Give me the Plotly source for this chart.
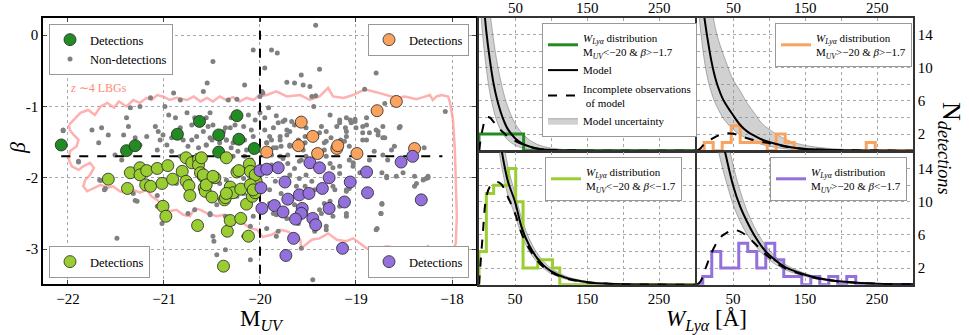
import plotly.graph_objects as go

FONT = "Liberation Serif"

# ---------------- scatter data (M_UV, beta) ----------------
dg_muv = [-22.07, -21.39, -21.30, -20.86, -20.63, -20.43, -20.43, -20.24, -20.22, -20.06]
dg_beta = [-1.54, -1.62, -1.55, -1.39, -1.21, -1.40, -1.64, -1.13, -1.46, -1.59]

or_muv = [-19.93, -19.57, -19.60, -19.45, -19.40, -19.20, -19.19, -18.99, -18.78, -18.58, -18.39]
or_beta = [-1.64, -1.22, -1.55, -1.42, -1.66, -1.59, -1.55, -1.66, -1.06, -0.93, -1.59]

pu_muv = [-20.00, -19.93, -19.81, -19.48, -19.38, -18.53, -18.41, -18.89, -19.28, -19.06, -19.74,
          -19.35, -19.99, -19.59, -19.49, -18.88, -19.71, -18.32, -19.12, -19.85, -19.98, -19.76,
          -19.56, -19.57, -19.63, -19.28, -19.45, -19.42, -19.65, -19.73, -19.14]
pu_beta = [-1.90, -1.88, -1.86, -1.79, -1.86, -1.78, -1.70, -1.92, -2.00, -2.06, -2.06,
           -2.15, -2.14, -2.24, -2.22, -2.21, -2.30, -2.31, -2.34, -2.39, -2.43, -2.48,
           -2.43, -2.50, -2.58, -2.43, -2.57, -2.66, -2.85, -3.09, -2.99]

lg_muv = [-21.58, -21.38, -21.35, -21.25, -21.25, -21.18, -21.19, -21.14, -21.07, -21.02, -21.01,
          -20.98, -20.96, -20.91, -20.81, -20.77, -20.77, -20.74, -20.73, -20.71, -20.65, -20.64,
          -20.64, -20.62, -20.61, -20.59, -20.58, -20.57, -20.50, -20.47, -20.38, -20.37, -20.36,
          -20.35, -20.34, -20.31, -20.31, -20.28, -20.24, -20.22, -20.20, -20.20, -20.14, -20.12,
          -20.11, -20.10, -20.07, -20.08, -20.05, -20.04, -20.05, -20.10, -20.07, -20.59, -20.56,
          -20.49, -20.35]
lg_beta = [-2.02, -2.15, -1.93, -1.86, -1.96, -1.90, -2.10, -2.12, -1.87, -2.08, -2.40,
           -2.54, -1.83, -2.02, -1.91, -2.05, -1.72, -2.11, -2.25, -1.79, -2.67, -1.74,
           -1.82, -1.93, -1.72, -1.98, -2.14, -2.19, -2.27, -2.00, -3.24, -2.31, -2.28,
           -1.72, -2.75, -2.60, -2.13, -2.21, -1.92, -1.90, -2.16, -2.57, -2.37, -2.82,
           -1.81, -1.91, -2.07, -2.26, -2.21, -2.05, -1.96, -2.10, -2.17, -1.96, -2.10,
           -1.98, -2.22]

nd_pts = [
    (-19.42, 0.14), (-20.07, -0.21), (-19.88, -0.21), (-19.82, -0.25), (-18.67, -0.25),
    (-20.49, -0.37), (-20.59, -0.79), (-20.90, -0.81), (-20.83, -0.91), (-21.14, -0.88),
    (-21.25, -1.00), (-21.35, -1.02), (-20.99, -1.00), (-20.95, -1.12), (-20.88, -1.16),
    (-20.76, -1.09), (-20.71, -1.26), (-20.68, -1.16), (-20.56, -1.16), (-20.49, -1.26),
    (-20.59, -1.35), (-20.66, -1.42), (-20.36, -1.30), (-20.30, -1.16), (-20.26, -1.26),
    (-21.39, -1.16), (-21.37, -1.28), (-21.75, -1.33), (-21.68, -1.51), (-21.58, -1.40),
    (-21.65, -1.30), (-22.05, -1.34), (-21.89, -1.77), (-21.18, -1.42), (-21.09, -1.28),
    (-21.06, -1.35), (-21.04, -1.47), (-21.01, -1.40), (-20.97, -1.54), (-20.92, -1.44),
    (-20.83, -1.30), (-20.80, -1.47), (-20.75, -1.56), (-20.71, -1.47), (-20.64, -1.58),
    (-20.56, -1.54), (-20.52, -1.44), (-20.42, -1.51), (-20.35, -1.47), (-20.30, -1.58),
    (-21.25, -1.54), (-21.30, -1.44), (-21.42, -1.40), (-21.51, -1.68), (-21.44, -1.75),
    (-21.07, -1.61), (-20.92, -1.63), (-20.83, -1.70), (-20.55, -0.67), (-20.24, -0.90),
    (-20.16, -0.70), (-19.95, -0.46), (-19.72, -0.66), (-19.64, -0.67), (-19.57, -0.56),
    (-19.55, -0.70), (-19.48, -0.72), (-19.38, -0.48), (-19.98, -0.79), (-20.00, -0.86),
    (-19.46, -0.86), (-19.42, -0.85), (-19.44, -1.00), (-19.91, -1.02), (-20.00, -1.09),
    (-19.95, -1.16), (-19.83, -1.13), (-19.76, -1.21), (-19.27, -1.12), (-19.17, -1.19),
    (-19.10, -1.16), (-19.01, -1.21), (-18.91, -0.76), (-18.79, -0.53), (-18.70, -0.96),
    (-18.07, -1.07), (-18.55, -1.30), (-19.69, -1.35), (-19.64, -1.26), (-19.52, -1.30),
    (-19.36, -1.28), (-19.31, -1.35), (-19.20, -1.28), (-19.10, -1.35), (-19.00, -1.30),
    (-18.93, -1.37), (-18.89, -1.26), (-18.79, -1.33), (-18.77, -1.40), (-18.70, -1.44),
    (-18.89, -1.47), (-19.86, -1.30), (-19.90, -1.42), (-19.79, -1.47), (-19.72, -1.40),
    (-19.60, -1.47), (-19.53, -1.51), (-19.31, -1.49), (-19.26, -1.44), (-19.12, -1.49),
    (-19.07, -1.56), (-19.33, -1.61), (-19.43, -1.63), (-19.57, -1.58), (-19.69, -1.56),
    (-19.83, -1.58), (-19.93, -1.51), (-18.81, -1.63), (-18.72, -1.68), (-18.60, -1.56),
    (-18.29, -1.58), (-18.27, -2.01), (-19.88, -1.68), (-19.76, -1.73), (-19.57, -1.75),
    (-19.27, -1.80), (-19.07, -1.75), (-18.86, -1.75), (-18.67, -1.75),
    (-20.52, -1.09), (-20.33, -0.91), (-20.54, -1.28), (-20.38, -1.35), (-20.31, -1.30),
    (-20.17, -1.28), (-20.09, -1.33), (-20.12, -1.12), (-20.05, -1.19), (-20.07, -1.42),
    (-20.16, -1.47), (-20.28, -1.51), (-20.35, -1.47), (-20.50, -1.47), (-20.56, -1.54),
    (-20.23, -1.63), (-20.14, -1.61), (-20.16, -1.70), (-20.28, -1.70), (-20.45, -1.68),
    (-20.09, -1.75), (-20.04, -1.56), (-20.17, -2.01), (-20.42, -2.08), (-20.35, -2.03),
    (-20.56, -2.17), (-20.17, -2.22), (-20.45, -2.38), (-20.52, -2.52), (-20.36, -2.54),
    (-20.28, -2.64), (-20.10, -2.68), (-20.07, -2.54), (-20.17, -2.82),
    (-19.97, -0.81), (-19.81, -1.23), (-19.74, -1.19), (-19.67, -1.21), (-19.72, -1.33),
    (-19.79, -1.42), (-19.88, -1.47), (-19.93, -1.51), (-19.95, -1.33), (-19.86, -1.58),
    (-19.78, -1.56), (-19.69, -1.54), (-19.71, -1.68), (-19.79, -1.70), (-19.55, -1.61),
    (-19.53, -1.42), (-19.38, -1.37), (-19.33, -1.51), (-19.52, -1.70), (-19.31, -1.70),
    (-19.17, -1.23), (-19.10, -1.42), (-19.05, -1.23), (-19.88, -1.82), (-19.79, -1.84),
    (-19.71, -1.80), (-19.64, -1.87), (-19.59, -1.77), (-19.69, -1.96), (-19.59, -2.01),
    (-19.62, -2.12), (-19.84, -2.05), (-19.90, -2.17), (-19.78, -2.22), (-19.52, -1.96),
    (-19.46, -2.05), (-19.53, -2.12), (-19.43, -2.17), (-19.59, -2.26), (-19.64, -2.38),
    (-19.90, -2.36), (-19.83, -2.52), (-19.72, -2.57), (-19.52, -2.50), (-19.38, -2.45),
    (-19.27, -2.33), (-19.22, -2.17), (-19.17, -1.94), (-19.03, -1.84), (-19.10, -2.17),
    (-19.31, -2.73), (-19.10, -2.54), (-19.93, -2.71), (-19.83, -2.82),
    (-21.66, -2.04), (-21.61, -2.15), (-21.32, -2.22), (-21.28, -2.33), (-21.49, -2.85),
    (-21.07, -2.40), (-21.02, -2.64), (-20.87, -2.08), (-20.75, -2.50), (-20.68, -2.45),
    (-20.52, -2.50), (-20.49, -2.82), (-20.48, -2.89), (-20.36, -3.01), (-20.45, -3.08),
    (-20.24, -2.26), (-20.26, -1.96),
    (-19.86, -2.50), (-19.81, -2.75), (-19.57, -2.99), (-19.45, -3.43), (-20.10, -3.15),
    (-19.60, -2.64), (-19.43, -2.75), (-19.31, -2.68), (-19.24, -2.54), (-19.10, -2.50),
    (-19.07, -2.15), (-19.17, -2.40), (-19.33, -2.36), (-19.36, -2.50), (-18.79, -2.73),
    (-18.74, -2.50), (-18.73, -2.37), (-18.58, -1.98), (-18.37, -2.08), (-18.30, -2.03),
    (-18.25, -1.98), (-18.42, -3.13), (-18.68, -1.98), (-18.89, -1.96),
    (-18.54, -1.28), (-18.51, -1.93), (-18.39, -1.98), (-18.25, -2.00), (-18.39, -2.12),
    (-18.73, -1.93), (-18.68, -2.00), (-18.73, -2.36), (-18.74, -2.50), (-18.78, -2.71),
    (-18.72, -1.28), (-18.77, -1.35), (-18.93, -1.28), (-18.86, -1.37), (-18.72, -1.44),
    (-18.93, -1.47), (-19.06, -1.19), (-19.11, -1.30), (-19.01, -1.18), (-18.89, -1.16),
    (-19.16, -1.47), (-18.63, -1.61), (-19.03, -1.79), (-19.17, -1.84), (-19.24, -1.86),
    (-18.96, -1.93), (-19.24, -2.12), (-19.10, -2.19),
    (-22.05, -1.33), (-21.89, -1.78), (-21.67, -2.03), (-21.62, -2.17), (-21.30, -2.32),
    (-21.07, -2.25),
]
nd_muv = [p[0] for p in nd_pts]
nd_beta = [p[1] for p in nd_pts]

# z~4 LBG contour (M_UV, beta)
lbg_contour = [
    (-21.99, -1.26), (-21.92, -1.16), (-21.87, -1.09), (-21.79, -1.05), (-21.72, -1.12),
    (-21.66, -1.00), (-21.59, -0.95), (-21.52, -1.02), (-21.47, -0.93), (-21.39, -1.00),
    (-21.32, -0.91), (-21.25, -0.95), (-21.18, -0.88), (-21.13, -0.91), (-21.07, -0.84),
    (-21.01, -0.86), (-20.94, -0.91), (-20.87, -0.88), (-20.76, -0.91), (-20.69, -0.86),
    (-20.62, -0.93), (-20.55, -0.88), (-20.49, -0.93), (-20.42, -0.86), (-20.35, -0.91),
    (-20.28, -0.87), (-20.21, -0.93), (-20.14, -0.88), (-20.07, -0.91), (-20.02, -0.86),
    (-19.93, -0.84), (-19.83, -0.79), (-19.72, -0.86), (-19.58, -0.84), (-19.48, -0.91),
    (-19.38, -0.86), (-19.29, -0.74), (-19.24, -0.86), (-19.13, -0.88), (-19.03, -0.84),
    (-18.91, -0.76), (-18.79, -0.80), (-18.65, -0.86), (-18.58, -0.88), (-18.49, -0.86),
    (-18.37, -0.90), (-18.30, -0.87), (-18.23, -0.84), (-18.20, -0.91), (-18.16, -0.86),
    (-18.11, -0.84), (-18.04, -0.86), (-18.02, -0.95), (-17.99, -1.19), (-17.97, -1.61),
    (-17.96, -2.07), (-17.95, -2.54), (-17.96, -2.92), (-18.01, -3.08), (-18.09, -3.10),
    (-18.20, -3.08), (-18.25, -2.96), (-18.30, -2.99), (-18.37, -3.10), (-18.44, -2.99),
    (-18.54, -2.99), (-18.68, -2.96), (-18.79, -3.00), (-18.89, -2.99), (-18.96, -2.92),
    (-19.03, -2.85), (-19.10, -2.89), (-19.20, -2.87), (-19.29, -2.78), (-19.38, -2.85),
    (-19.46, -2.87), (-19.53, -2.94), (-19.57, -2.99), (-19.58, -2.87), (-19.65, -2.80),
    (-19.72, -2.75), (-19.79, -2.73), (-19.88, -2.80), (-19.97, -2.83), (-20.03, -2.73),
    (-20.10, -2.71), (-20.17, -2.64), (-20.24, -2.61), (-20.31, -2.54), (-20.38, -2.52),
    (-20.45, -2.54), (-20.55, -2.50), (-20.62, -2.45), (-20.68, -2.43), (-20.73, -2.54),
    (-20.80, -2.52), (-20.87, -2.45), (-20.94, -2.47), (-21.01, -2.40), (-21.07, -2.31),
    (-21.13, -2.26), (-21.18, -2.17), (-21.25, -2.21), (-21.32, -2.17), (-21.39, -2.21),
    (-21.46, -2.19), (-21.53, -2.12), (-21.59, -2.14), (-21.66, -2.10), (-21.73, -2.14),
    (-21.80, -2.19), (-21.84, -2.12), (-21.82, -2.03), (-21.77, -1.96), (-21.73, -1.86),
    (-21.77, -1.79), (-21.84, -1.84), (-21.89, -1.89), (-21.96, -1.84), (-21.99, -1.75),
    (-21.98, -1.63), (-21.91, -1.56), (-21.89, -1.47), (-21.94, -1.40), (-21.98, -1.33),
    (-21.99, -1.26),
]
lbg_muv = [p[0] for p in lbg_contour]
lbg_beta = [p[1] for p in lbg_contour]

M_CUT = -20.0
BETA_CUT = -1.7
BETA_LINE_MUV = [-22.07, -18.10]

# ---------------- W_Lya histogram data ----------------
W_MAX = 300
W_TICKS = [50, 100, 150, 200, 250]
W_TICK_LABELS = [50, 150, 250]
h_dg_edges = [0, 12.4, 24.8, 37.2, 49.6, 62.0]
h_dg_vals = [2, 2, 2, 2, 2]
h_lg_edges = [0, 10.2, 20.4, 30.6, 40.8, 51.0, 61.2, 71.4, 81.6, 91.8, 102.0, 112.2]
h_lg_vals = [4, 11, 12, 12, 14, 10, 2, 2, 3, 3, 2]
h_or_edges = [10, 22.5, 35, 47.5, 60, 72.5, 85, 97.5, 110, 122.5, 135, 147.5, 160, 172.5,
              185, 197.5, 210, 222.5, 235, 247.5]
h_or_vals = [1, 0, 1, 3, 1, 1, 1, 0, 2, 1, 0, 0, 0, 0, 0, 0, 0, 0, 1]
h_pu_edges = [8, 20.5, 33, 45.5, 58, 70.5, 83, 95.5, 108, 120.5, 133, 145.5, 158, 170.5,
              183, 195.5, 208, 220.5]
h_pu_vals = [1, 4, 2, 2, 5, 4, 2, 5, 3, 1, 1, 0, 1, 0, 1, 0, 1]

# model curves sampled on a W grid
W_GRID = [0, 5, 10, 15, 20, 25, 30, 35, 40, 50, 60, 70, 80, 90, 100, 120, 140, 160, 180, 200, 250, 300]
# top-left (dark green)
m_dg = [26, 19.5, 14.5, 11, 8.2, 6.2, 4.7, 3.5, 2.6, 1.5, 0.85, 0.5, 0.28, 0.16, 0.09, 0.03, 0.01, 0, 0, 0, 0, 0]
up_dg = [34, 27, 21.5, 17, 13.5, 10.7, 8.5, 6.7, 5.3, 3.3, 2.1, 1.3, 0.8, 0.5, 0.32, 0.13, 0.05, 0.02, 0, 0, 0, 0]
lo_dg = [20, 14, 10, 7, 5, 3.5, 2.5, 1.8, 1.3, 0.65, 0.33, 0.17, 0.08, 0.04, 0.02, 0, 0, 0, 0, 0, 0, 0]
d_dg = [0, 2.6, 4.0, 4.0, 3.5, 3.0, 2.5, 2.1, 1.7, 1.2, 0.8, 0.48, 0.27, 0.16, 0.09, 0.03, 0.01, 0, 0, 0, 0, 0]
# top-right (orange)
m_or = [23, 19.5, 16.2, 13.3, 10.8, 8.9, 7.5, 6.4, 5.6, 4.3, 3.1, 2.3, 1.8, 1.35, 1.05, 0.6, 0.3, 0.17, 0.1, 0.06, 0.02, 0]
up_or = [30, 27, 24, 20.5, 17.5, 15, 13.3, 12, 10.8, 8.6, 7.2, 5.7, 4.5, 3.3, 2.6, 1.5, 0.85, 0.5, 0.3, 0.18, 0.05, 0.01]
lo_or = [19, 14.5, 11, 8.6, 7, 5.8, 4.9, 4.1, 3.5, 2.6, 1.9, 1.45, 1.05, 0.75, 0.55, 0.25, 0.12, 0.05, 0.02, 0.01, 0, 0]
d_or = [0, 0.3, 0.8, 1.1, 1.4, 1.65, 1.85, 2.0, 2.1, 2.05, 1.8, 1.5, 1.25, 1.05, 0.9, 0.55, 0.3, 0.17, 0.1, 0.06, 0.02, 0]
# bottom-left (light green)
m_lg = [55, 45, 37, 30, 25, 20.5, 17, 14.5, 12.5, 10, 6.7, 4.7, 3.3, 2.3, 1.65, 0.85, 0.45, 0.22, 0.12, 0.06, 0.01, 0]
up_lg = [60, 50, 41, 34, 28, 23, 19.5, 16.8, 14.3, 11, 7.8, 5.5, 3.9, 2.8, 2.0, 1.05, 0.55, 0.3, 0.16, 0.08, 0.02, 0]
lo_lg = [50, 40, 33, 27, 22, 18, 15, 12.7, 10.8, 8.4, 5.8, 4.0, 2.8, 1.95, 1.35, 0.68, 0.34, 0.17, 0.08, 0.04, 0.01, 0]
d_lg = [0, 5.8, 10.5, 11.8, 12.2, 12.4, 12.2, 11.6, 10.6, 8.6, 6.0, 4.3, 3.0, 2.1, 1.5, 0.78, 0.4, 0.2, 0.11, 0.05, 0.01, 0]
# bottom-right (purple)
m_pu = [42, 37, 32, 28, 25, 22, 19.5, 17.5, 15.6, 12, 9.4, 7.5, 5.9, 4.6, 3.6, 2.25, 1.5, 0.95, 0.6, 0.38, 0.12, 0.04]
up_pu = [50, 44, 39, 35, 31, 27, 24, 21, 18.5, 14.5, 11.3, 8.8, 6.9, 5.4, 4.2, 2.6, 1.7, 1.1, 0.7, 0.45, 0.15, 0.05]
lo_pu = [35, 30, 26, 23, 21, 18, 16, 14.2, 12.6, 9.7, 7.6, 6.0, 4.8, 3.8, 3.0, 1.9, 1.25, 0.8, 0.5, 0.32, 0.1, 0.03]
d_pu = [0, 0.4, 1.5, 2.7, 3.8, 4.7, 5.4, 5.9, 6.2, 6.6, 6.4, 5.8, 5.0, 4.1, 3.3, 2.1, 1.4, 0.9, 0.58, 0.37, 0.12, 0.04]

C_DG = "#228b22"
C_LG = "#9acd32"
C_OR = "#f9a35f"
C_PU = "#9370db"
C_ND = "#808080"


def step_xy(edges, vals):
    xs = [0, edges[0], edges[0]] + list(edges[1:-1]) + [edges[-1], W_MAX]
    ys = [0, 0, vals[0]] + list(vals[1:]) + [0, 0]
    return xs, ys


fig = go.Figure()

# ---------------- left scatter ----------------
fig.add_trace(go.Scatter(x=lbg_muv, y=lbg_beta, mode="lines", line=dict(color="rgba(255,150,150,0.75)", width=2.5),
                         showlegend=False, hoverinfo="skip", xaxis="x", yaxis="y"))
fig.add_trace(go.Scatter(x=nd_muv, y=nd_beta, mode="markers", name="Non-detections",
                         marker=dict(color=C_ND, size=5), legend="legend", legendrank=2, xaxis="x", yaxis="y"))
fig.add_trace(go.Scatter(x=[M_CUT, M_CUT], y=[-3.6, 0.3], mode="lines", line=dict(color="black", width=2, dash="dash"),
                         showlegend=False, xaxis="x", yaxis="y"))
fig.add_trace(go.Scatter(x=BETA_LINE_MUV, y=[BETA_CUT, BETA_CUT], mode="lines",
                         line=dict(color="black", width=2, dash="dash"), showlegend=False, xaxis="x", yaxis="y"))
mk = dict(size=12, line=dict(color="#222", width=0.8))
fig.add_trace(go.Scatter(x=dg_muv, y=dg_beta, mode="markers", name="Detections", marker=dict(color=C_DG, **mk),
                         legend="legend", legendrank=1, xaxis="x", yaxis="y"))
fig.add_trace(go.Scatter(x=or_muv, y=or_beta, mode="markers", name="Detections", marker=dict(color=C_OR, **mk),
                         legend="legend2", xaxis="x", yaxis="y"))
fig.add_trace(go.Scatter(x=lg_muv, y=lg_beta, mode="markers", name="Detections", marker=dict(color=C_LG, **mk),
                         legend="legend3", xaxis="x", yaxis="y"))
fig.add_trace(go.Scatter(x=pu_muv, y=pu_beta, mode="markers", name="Detections", marker=dict(color=C_PU, **mk),
                         legend="legend4", xaxis="x", yaxis="y"))

# ---------------- histogram panels ----------------
panels = [
    ("x2", "y2", "legend5", C_DG, h_dg_edges, h_dg_vals, m_dg, up_dg, lo_dg, d_dg, "&lt;", "&gt;", True),
    ("x3", "y3", "legend6", C_OR, h_or_edges, h_or_vals, m_or, up_or, lo_or, d_or, "&gt;", "&gt;", False),
    ("x4", "y4", "legend7", C_LG, h_lg_edges, h_lg_vals, m_lg, up_lg, lo_lg, d_lg, "&lt;", "&lt;", False),
    ("x5", "y5", "legend8", C_PU, h_pu_edges, h_pu_vals, m_pu, up_pu, lo_pu, d_pu, "&gt;", "&lt;", False),
]
for xa, ya, lg, col, edges, vals, m, up, lo, d, s1, s2, full in panels:
    fig.add_trace(go.Scatter(x=W_GRID, y=lo, mode="lines", line=dict(color="rgba(100,100,100,0.6)", width=0.8, shape="spline"),
                             showlegend=False, hoverinfo="skip", xaxis=xa, yaxis=ya))
    fig.add_trace(go.Scatter(x=W_GRID, y=up, mode="lines", fill="tonexty", fillcolor="rgba(140,140,140,0.4)",
                             line=dict(color="rgba(100,100,100,0.6)", width=0.8, shape="spline"),
                             name="Model uncertainty", showlegend=full, legend=lg, legendrank=4,
                             xaxis=xa, yaxis=ya))
    sx, sy = step_xy(edges, vals)
    label = ("<i>W</i><sub><i>Lyα</i></sub> distribution<br>M<sub><i>UV</i></sub>" + s1 + "−20 &amp; <i>β</i>"
             + s2 + "−1.7")
    fig.add_trace(go.Scatter(x=sx, y=sy, mode="lines", line=dict(color=col, width=3, shape="hv"),
                             name=label, legend=lg, legendrank=1, xaxis=xa, yaxis=ya))
    fig.add_trace(go.Scatter(x=W_GRID, y=m, mode="lines", line=dict(color="black", width=2, shape="spline"),
                             name="Model", showlegend=full, legend=lg, legendrank=2, xaxis=xa, yaxis=ya))
    fig.add_trace(go.Scatter(x=W_GRID, y=d, mode="lines", line=dict(color="black", width=2, dash="dash", shape="spline"),
                             name="Incomplete observations<br> of model", showlegend=full, legend=lg, legendrank=3,
                             xaxis=xa, yaxis=ya))

W_ = 969.0
H_ = 335.0


def dx(px):
    return px / W_


def dy(py):
    return 1 - py / H_


tickfont = dict(family=FONT, size=15, color="black")
grid = dict(showgrid=True, gridcolor="#a8a8a8", griddash="dot", gridwidth=1, zeroline=False, automargin=False)

layout = dict(
    width=969, height=335, margin=dict(l=0, r=0, t=0, b=0, autoexpand=False),
    paper_bgcolor="white", plot_bgcolor="white",
    font=dict(family=FONT, color="black"),
    xaxis=dict(domain=[dx(43), dx(476)], range=[-22.26, -17.75], anchor="y",
               tickvals=[-22, -21, -20, -19, -18], ticktext=["−22", "−21", "−20", "−19", "−18"],
               ticks="inside", ticklen=4, showline=True, linecolor="black", linewidth=1.5, mirror="ticks",
               tickfont=tickfont, **grid),
    yaxis=dict(domain=[dy(284), dy(18)], range=[-3.49, 0.24], anchor="x",
               tickvals=[0, -1, -2, -3], ticktext=["0", "-1", "-2", "-3"],
               ticks="inside", ticklen=4, showline=True, linecolor="black", linewidth=1.5, mirror="ticks",
               tickfont=tickfont, **grid),
)

hx = dict(range=[0, W_MAX], tickvals=W_TICKS,
          ticktext=[str(v) if v in W_TICK_LABELS else "" for v in W_TICKS],
          ticks="", showline=True, linecolor="#333", linewidth=1.5, mirror=True, tickfont=tickfont, **grid)
hy = dict(range=[0, 16], tickvals=[2, 4, 6, 8, 10, 12, 14], ticktext=["2", "", "6", "", "10", "", "14"],
          ticks="", showline=True, linecolor="#333", linewidth=1.5, mirror=True, tickfont=tickfont, **grid)

colL = [dx(479), dx(695)]
colR = [dx(697), dx(913)]
rowT = [dy(150.7), dy(18)]
rowB = [dy(284.7), dy(152)]
layout["xaxis2"] = dict(domain=colL, anchor="y2", side="top", showticklabels=False, **hx)
layout["yaxis2"] = dict(domain=rowT, anchor="x2", showticklabels=False, **hy)
layout["xaxis3"] = dict(domain=colR, anchor="y3", side="top", showticklabels=False, **hx)
layout["yaxis3"] = dict(domain=rowT, anchor="x3", side="right", **hy)
layout["xaxis4"] = dict(domain=colL, anchor="y4", side="bottom", **hx)
layout["yaxis4"] = dict(domain=rowB, anchor="x4", showticklabels=False, **hy)
layout["xaxis5"] = dict(domain=colR, anchor="y5", side="bottom", **hx)
layout["yaxis5"] = dict(domain=rowB, anchor="x5", side="right", **hy)


def leg(x, y, xa, ya, size):
    return dict(x=x, y=y, xanchor=xa, yanchor=ya, bgcolor="white", bordercolor="#999999", borderwidth=1,
                font=dict(family=FONT, size=size, color="black"), tracegroupgap=0, itemwidth=30,
                traceorder="normal")


layout["legend"] = leg(dx(49), dy(24), "left", "top", 12.5)
layout["legend2"] = leg(dx(469), dy(24), "right", "top", 12.5)
layout["legend3"] = leg(dx(49), dy(278), "left", "bottom", 12.5)
layout["legend4"] = leg(dx(469), dy(278), "right", "bottom", 12.5)
layout["legend5"] = leg(dx(542), dy(23), "left", "top", 11)
layout["legend6"] = leg(dx(912), dy(23), "right", "top", 11)
layout["legend7"] = leg(dx(545), dy(157), "left", "top", 11)
layout["legend8"] = leg(dx(907), dy(157), "right", "top", 11)

annotations = [
    dict(text="<i>z</i> ∼4 LBGs", x=-22.0, y=-0.74, xref="x", yref="y", xanchor="left", yanchor="middle",
         showarrow=False, font=dict(family=FONT, size=12, color="#ff8a78")),
    dict(text="M<sub><i>UV</i></sub>", x=dx(262), y=dy(320), xref="paper", yref="paper", showarrow=False,
         xanchor="center", yanchor="middle", font=dict(family=FONT, size=23, color="black")),
    dict(text="<i>β</i>", x=dx(17), y=dy(148), xref="paper", yref="paper", showarrow=False, textangle=-90,
         xanchor="center", yanchor="middle", font=dict(family=FONT, size=22, color="black")),
    dict(text="<i>W</i><sub><i>Lyα</i></sub> [Å]", x=dx(706), y=dy(320), xref="paper", yref="paper",
         xanchor="center", yanchor="middle", showarrow=False, font=dict(family=FONT, size=23, color="black")),
    dict(text="N<sub><i>detections</i></sub>", x=dx(950), y=dy(148), xref="paper", yref="paper",
         xanchor="center", yanchor="middle", showarrow=False, textangle=90,
         font=dict(family=FONT, size=26, color="black")),
]
# top-row W tick labels (placed through the x2/x3 axis scales)
for xr in ("x2", "x3"):
    for v in W_TICK_LABELS:
        annotations.append(dict(text=str(v), x=v, y=dy(8), xref=xr, yref="paper", xanchor="center",
                                yanchor="middle", showarrow=False, font=tickfont))
layout["annotations"] = annotations

fig.update_layout(**layout)
fig.write_html("out.html", config={"displayModeBar": False},
               post_script="document.body.style.margin='0px';document.body.style.overflow='hidden';")
